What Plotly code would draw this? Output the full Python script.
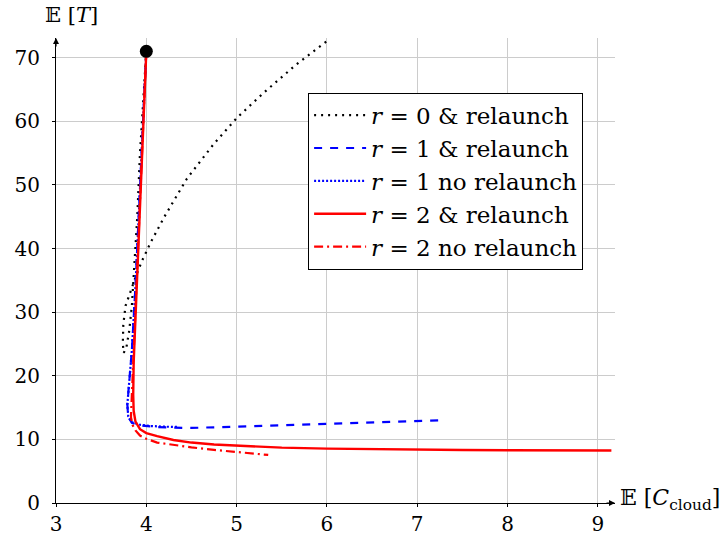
import plotly.graph_objects as go

# ---- data ----
r0_rel_x = [4.00, 3.97, 3.93, 3.90, 3.87, 3.84, 3.81, 3.78, 3.75, 3.74, 3.745, 3.77, 3.82, 3.88,
            3.95, 4.05, 4.20, 4.45, 4.75, 5.00, 5.30, 5.65, 6.00]
r0_rel_y = [71, 64, 55, 45, 37, 31, 27, 24.5, 23.6, 25, 28, 31, 33, 35.5,
            38, 41, 45, 51, 56.5, 60.5, 64.5, 68.8, 72.6]

r1_rel_x = [4.00, 3.96, 3.92, 3.88, 3.84, 3.81, 3.79, 3.80, 3.84, 3.93, 4.10, 4.30, 4.50,
            5.00, 5.50, 6.00, 6.50, 7.00, 7.25]
r1_rel_y = [71, 58, 45, 34, 24, 18, 15.5, 13.5, 12.6, 12.2, 11.95, 11.85, 11.8,
            12.0, 12.2, 12.45, 12.7, 12.9, 13.0]

r1_norel_x = [4.00, 3.96, 3.92, 3.88, 3.84, 3.81, 3.79, 3.80, 3.84, 3.93, 4.05, 4.20, 4.35]
r1_norel_y = [71, 58, 45, 34, 24, 18, 15.5, 13.6, 12.7, 12.3, 12.1, 12.0, 11.95]

r2_rel_x = [4.00, 3.97, 3.94, 3.91, 3.88, 3.86, 3.855, 3.86, 3.88, 3.93, 4.00, 4.12, 4.30,
            4.50, 4.75, 5.00, 5.50, 6.00, 6.50, 7.00, 7.50, 8.00, 8.50, 9.15]
r2_rel_y = [71, 60, 50, 40, 30, 22, 17, 14.5, 12.8, 11.6, 11.0, 10.5, 9.9,
            9.5, 9.2, 9.0, 8.7, 8.55, 8.45, 8.38, 8.33, 8.3, 8.28, 8.25]

r2_norel_x = [4.00, 3.96, 3.92, 3.88, 3.85, 3.83, 3.83, 3.85, 3.88, 3.93, 4.00, 4.12, 4.30,
              4.50, 4.75, 5.00, 5.20, 5.35]
r2_norel_y = [71, 58, 45, 32, 22, 16, 13.5, 12.2, 11.4, 10.6, 10.1, 9.5, 9.1,
              8.75, 8.35, 8.0, 7.75, 7.55]

start_x = [4.0]
start_y = [71]

x_ticks = [3, 4, 5, 6, 7, 8, 9]
y_ticks = [0, 10, 20, 30, 40, 50, 60, 70]

FONT = "DejaVu Serif"

fig = go.Figure()
fig.add_trace(go.Scatter(x=r0_rel_x, y=r0_rel_y, mode="lines", legendgroup="a",
                         name="<i>r</i> = 0 &amp; relaunch",
                         line=dict(color="black", width=2.2, dash="2px,5px")))
fig.add_trace(go.Scatter(x=r1_rel_x, y=r1_rel_y, mode="lines", legendgroup="b",
                         name="<i>r</i> = 1 &amp; relaunch",
                         line=dict(color="blue", width=2.2, dash="8px,8px")))
fig.add_trace(go.Scatter(x=r1_norel_x, y=r1_norel_y, mode="lines", legendgroup="c",
                         name="<i>r</i> = 1 no relaunch",
                         line=dict(color="blue", width=2.2, dash="2px,2px")))
fig.add_trace(go.Scatter(x=r2_rel_x, y=r2_rel_y, mode="lines", legendgroup="d",
                         name="<i>r</i> = 2 &amp; relaunch",
                         line=dict(color="red", width=2.4)))
fig.add_trace(go.Scatter(x=r2_norel_x, y=r2_norel_y, mode="lines", legendgroup="e",
                         name="<i>r</i> = 2 no relaunch",
                         line=dict(color="red", width=2.2, dash="9px,4px,2px,4px")))
fig.add_trace(go.Scatter(x=start_x, y=start_y, mode="markers", showlegend=False,
                         marker=dict(color="black", size=13)))

XR = [3, 9.19]
YR = [0, 73.1]

fig.update_layout(
    width=723, height=548,
    margin=dict(l=56, r=108, t=38, b=42),
    paper_bgcolor="white", plot_bgcolor="white",
    font=dict(family=FONT, size=20, color="black"),
    showlegend=True,
    legend=dict(x=0.451, y=0.8825, xanchor="left", yanchor="top",
                bordercolor="black", borderwidth=1, bgcolor="white", itemwidth=52,
                font=dict(family=FONT, size=23), tracegroupgap=0),
    xaxis=dict(range=XR, tickvals=x_ticks, showgrid=True, gridcolor="#cccccc", gridwidth=1,
               zeroline=False, showline=True, linecolor="black", linewidth=1,
               ticks="outside", ticklen=3, tickcolor="black",
               tickfont=dict(family=FONT, size=20)),
    yaxis=dict(range=YR, tickvals=y_ticks, showgrid=True, gridcolor="#cccccc", gridwidth=1,
               zeroline=False, showline=True, linecolor="black", linewidth=1,
               ticks="outside", ticklen=3, tickcolor="black", ticklabelstandoff=8,
               tickfont=dict(family=FONT, size=20)),
)

# axis arrows
fig.add_annotation(x=XR[1], y=0, xref="x", yref="y", ax=-10, ay=0, text="",
                   showarrow=True, arrowhead=2, arrowsize=1, arrowwidth=1.2, arrowcolor="black")
fig.add_annotation(x=3, y=YR[1], xref="x", yref="y", ax=0, ay=10, text="",
                   showarrow=True, arrowhead=2, arrowsize=1, arrowwidth=1.2, arrowcolor="black")

# axis titles
fig.add_annotation(x=0.027, y=1.049, xref="paper", yref="paper", xanchor="center", yanchor="middle",
                   text="𝔼 [<i>T</i>]", showarrow=False, font=dict(family=FONT, size=21))
fig.add_annotation(x=1, y=0, xref="paper", yref="paper", xanchor="left", yanchor="middle",
                   xshift=3, yshift=4,
                   text="𝔼 [<i>C</i><sub>cloud</sub>]", showarrow=False, font=dict(family=FONT, size=22))

fig.write_html("out.html")
